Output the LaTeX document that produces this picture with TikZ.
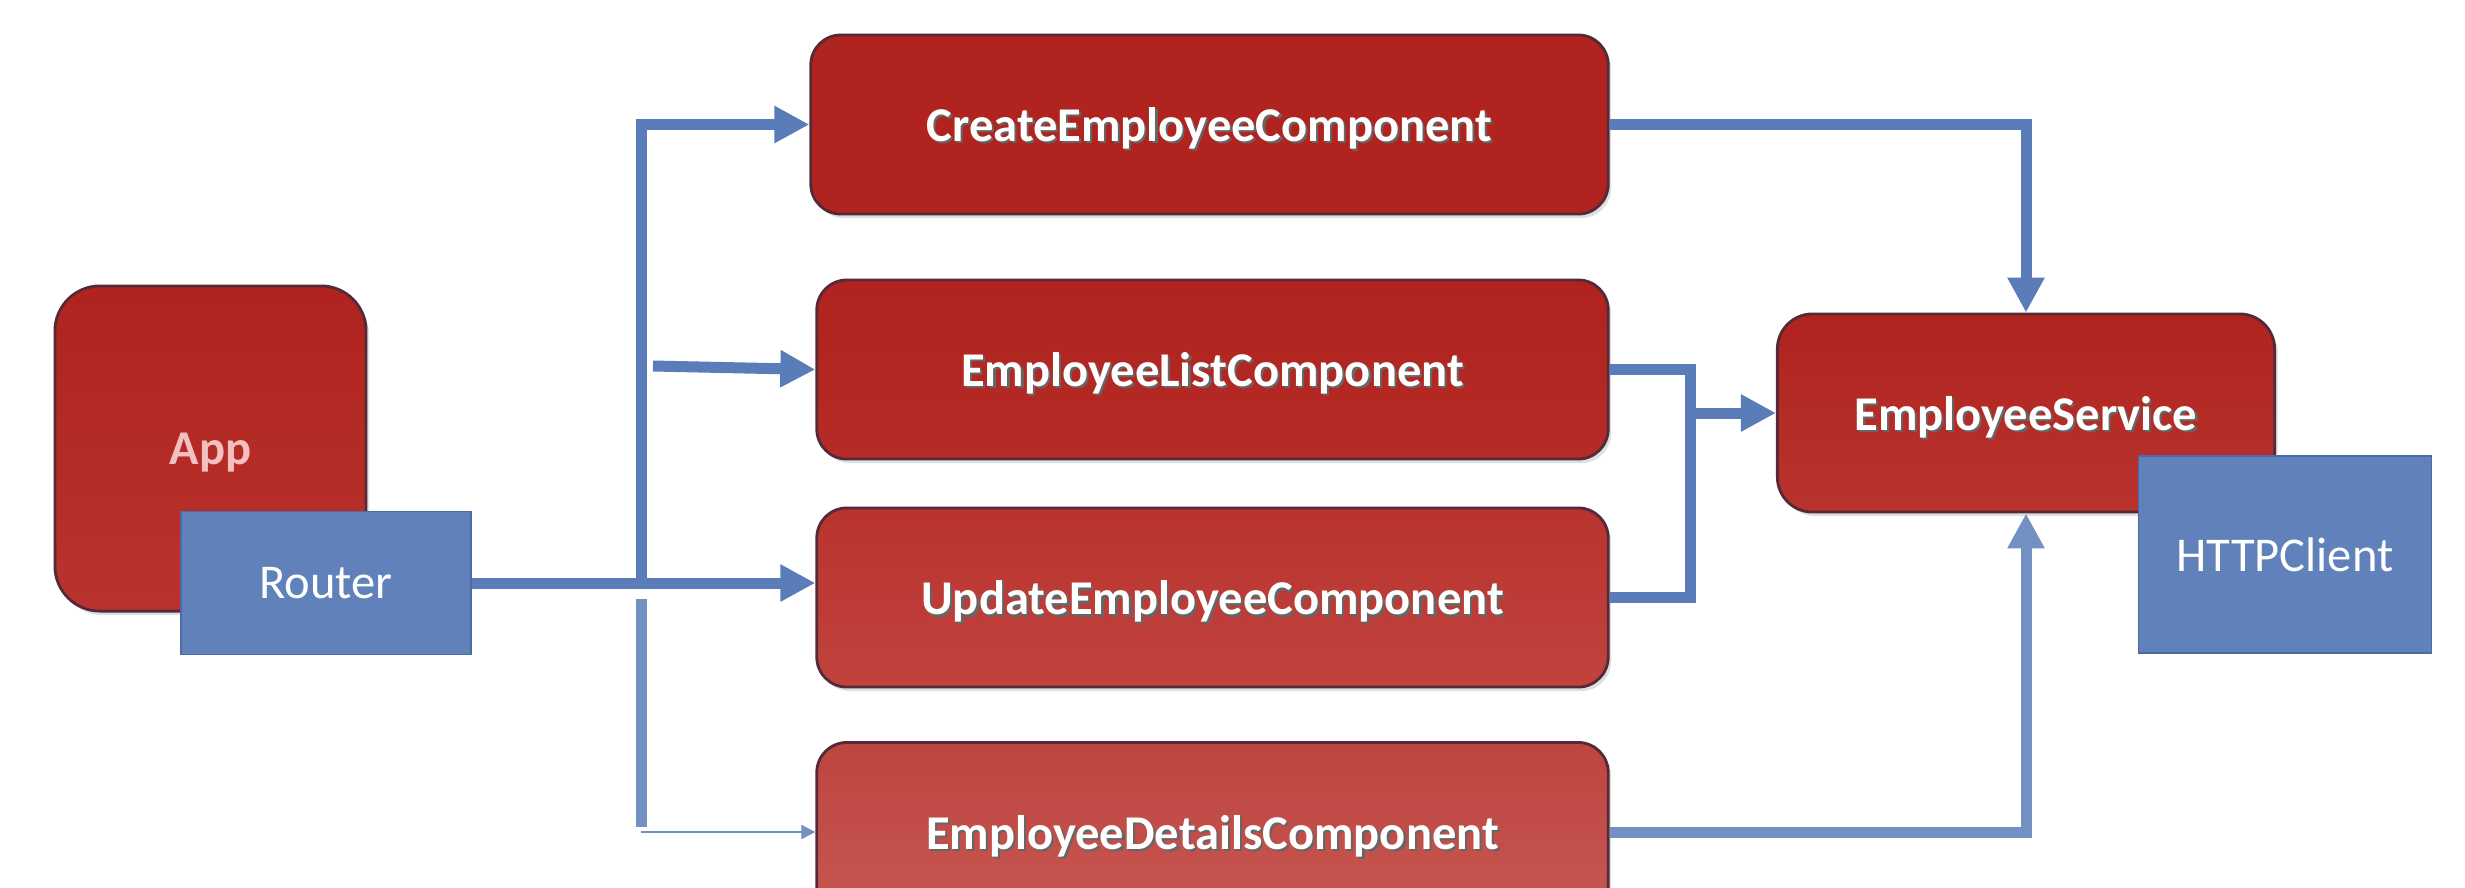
\documentclass[tikz,border=0pt]{standalone}
\usepackage{fontspec}
\setmainfont{Carlito}
\usetikzlibrary{arrows.meta,calc,shadows}

\definecolor{linkblue}{HTML}{5A7CB8}
\definecolor{linkpale}{HTML}{7390C3}
\definecolor{bluefill}{HTML}{6181BA}
\definecolor{blueedge}{HTML}{4C6BA3}
\definecolor{boxedge}{HTML}{552A38}
\definecolor{redA}{HTML}{B0231E}
\definecolor{redB}{HTML}{B52B26}
\definecolor{redC}{HTML}{B9332E}
\definecolor{redD}{HTML}{C1433E}
\definecolor{redE}{HTML}{BE4540}
\definecolor{redF}{HTML}{C75752}
\definecolor{apptext}{HTML}{F2C0C0}

% white label with a soft dark drop behind it
\newcommand{\shadowed}[1]{\leavevmode\rlap{\hspace{0.6pt}\raisebox{-0.7pt}{\textcolor{black!60}{#1}}}#1}

\tikzset{
  redbox/.style={rounded corners=0.3cm, draw=boxedge, line width=0.8pt,
    drop shadow={opacity=0.25, shadow xshift=0.03cm, shadow yshift=-0.04cm},
    text=white, text depth=0pt, font=\fontsize{13.8}{16}\selectfont\bfseries},
  comp/.style={redbox, minimum width=7.91cm, minimum height=1.79cm},
  bluebox/.style={draw=blueedge, line width=0.5pt, fill=bluefill, text=white,
    text depth=0pt, font=\fontsize{13.8}{16}\selectfont},
  conn/.style={draw=linkblue, line width=0.11cm,
    -{Triangle[length=0.35cm 0, width=0.35cm 0]}},
  plainconn/.style={draw=linkblue, line width=0.11cm},
}

\begin{document}
\begin{tikzpicture}[x=0.01cm, y=-0.01cm]
  \clip (0,0) rectangle (2465,887);
  \fill[white] (0,0) rectangle (2465,887);

  % application shell with its router
  \node[redbox, rounded corners=0.45cm, minimum width=3.11cm, minimum height=3.25cm,
        top color=redA, bottom color=redC, text=apptext] (app) at (210.5,448.5) {App};
  \node[bluebox, minimum width=2.9cm, minimum height=1.43cm] (router) at (326,583) {Router};

  % routed components
  \node[comp, minimum width=7.97cm, top color=redA, bottom color=redA] (create) at (1209.5,124.5)
        {\shadowed{CreateEmployeeComponent}};
  \node[comp, top color=redA, bottom color=redB] (list) at (1212.5,369.5)
        {\shadowed{EmployeeListComponent}};
  \node[comp, top color=redC, bottom color=redD] (update) at (1212.5,597.5)
        {\shadowed{UpdateEmployeeComponent}};
  \node[comp, top color=redE, bottom color=redF] (details) at (1212.5,832)
        {\shadowed{EmployeeDetailsComponent}};

  % data service with its HTTP client
  \node[redbox, rounded corners=0.35cm, minimum width=4.97cm, minimum height=1.98cm,
        top color=redA, bottom color=redC] (service) at (2026,413)
        {\shadowed{EmployeeService}};
  \node[bluebox, minimum width=2.93cm, minimum height=1.97cm] (http) at (2285,554.5) {HTTPClient};

  % router fan-out
  \coordinate (trunk) at (641,583);
  \coordinate (listfeed) at (653,366);
  \coordinate (lowtrunk) at (641,599);
  \coordinate (lowcorner) at (641,832);
  \draw[conn] (router.east) -- (trunk) |- (create.west);
  \draw[conn] (router.east) -- (router.east -| update.west);
  \draw[conn] (listfeed) -- (list.west);
  \draw[plainconn, draw=linkpale, line cap=butt] (lowtrunk) -- ([yshift=0.055cm]lowcorner);
  \draw[draw=linkpale, line width=0.02cm, -{Triangle[length=0.14cm 0, width=0.14cm 0]}]
        (lowcorner) -- (details.west);

  % components to the service
  \coordinate (merge) at ([xshift=-0.85cm]service.west);
  \draw[conn] (create.east) -| (service.north);
  \draw[plainconn] (list.east) -| (merge) |- (update.east);
  \draw[conn] (merge) -- (service.west);
  \draw[conn, draw=linkpale] (details.east) -| (service.south);
\end{tikzpicture}
\end{document}
